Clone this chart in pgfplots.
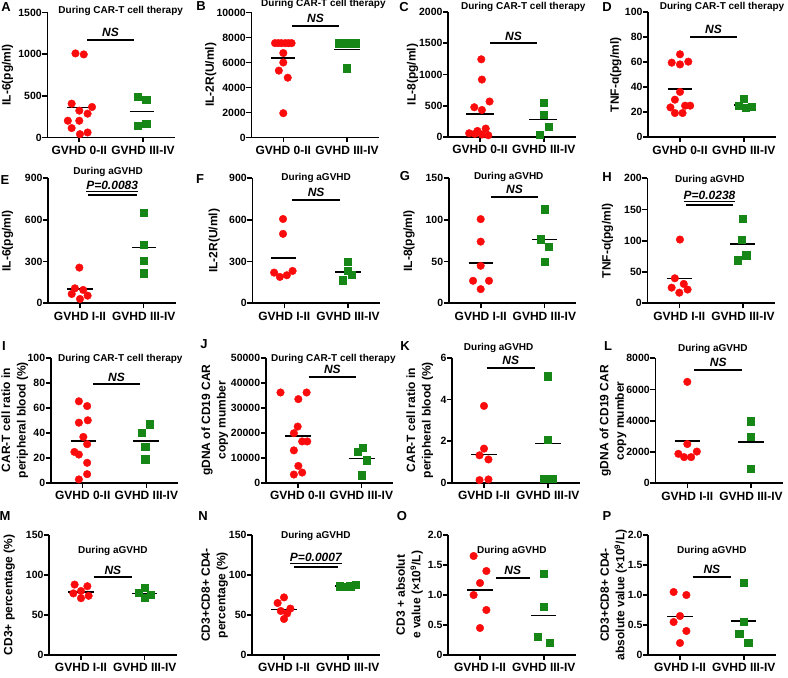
\documentclass[border=0pt]{standalone}
\usepackage{pgfplots}
\pgfplotsset{compat=1.18}
\usepackage{fontspec}
\setmainfont{Liberation Sans}
\definecolor{myred}{RGB}{250,12,12}
\definecolor{mygreen}{RGB}{22,135,22}
\pgfplotsset{panel/.style={
 scale only axis, width=127.4pt, height=125pt,
 xmin=-0.5, xmax=1.5, ymin=0,
 axis lines=left, axis line style={-, line width=1.6pt},
 xtick={0,1}, tick align=outside, major tick length=5pt,
 every tick/.style={black, line width=1.6pt},
 tick label style={font=\fontsize{10.5}{12}\selectfont\bfseries},
 yticklabel style={inner sep=0.5pt},
 xticklabel style={font=\fontsize{12}{13}\selectfont\bfseries},
 ylabel style={font=\fontsize{12}{15.5}\selectfont\bfseries, align=center, inner sep=0pt},
 clip=false, scaled y ticks=false,
 /pgf/number format/assume math mode=true,
 /pgf/number format/1000 sep={},
 anchor=south west,
},
ylab/.style={ylabel style={at={(axis description cs:-#1/127.4,0.5)}, anchor=south}}}
\newcommand{\reds}[1]{\addplot[only marks, mark=*, mark size=3.8pt, color=myred] coordinates {#1};}
\newcommand{\greens}[1]{\addplot[only marks, mark=square*, mark size=3.6pt, color=mygreen] coordinates {#1};}
\newcommand{\meanl}[3]{\addplot[black, line width=1.5pt] coordinates {(#1,#3) (#2,#3)};}
\newcommand{\sig}[5]{\addplot[black, line width=2pt] coordinates {(#1,#3) (#2,#3)};
 \node[anchor=south, inner sep=0pt, yshift=3pt, font=\fontsize{12}{13}\selectfont\bfseries\itshape] at (axis cs:#4,#3) {#5};}
\newcommand{\ttl}[3]{\node[font=\fontsize{10}{11}\selectfont\bfseries] at (axis cs:#1,#2) {#3};}
\newcommand{\lett}[3]{\node[font=\fontsize{13}{14}\selectfont\bfseries] at (#1pt,#2pt) {#3};}
\begin{document}
\begin{tikzpicture}
\useasboundingbox (0,0) rectangle (788pt,678pt);
% ---------------- Row 1
\begin{axis}[panel, ylab=34.2, at={(47.45pt,540.5pt)}, ymax=1500, ytick={0,500,1000,1500},
 xticklabels={GVHD 0-II,GVHD III-IV}, ylabel={IL-6(pg/ml)}]
\reds{(-0.06,1009) (0.07,997) (-0.12,406) (0.2,366) (0,322) (0.13,286) (-0.18,201) (0,201) (-0.12,113) (0.01,40) (0.13,60)}
\greens{(0.92,487) (1.05,454) (0.92,141) (1.05,161)}
\meanl{-0.2}{0.2}{362}
\meanl{0.79}{1.18}{314}
\sig{0.125}{0.86}{1170}{0.49}{NS}
\ttl{0.65}{1520}{During CAR-T cell therapy}
\end{axis}
\begin{axis}[panel, ylab=34.8, at={(251.45pt,540.5pt)}, ymax=10000, ytick={0,2000,4000,6000,8000,10000},
 xticklabels={GVHD 0-II,GVHD III-IV}, ylabel={IL-2R(U/ml)}]
\reds{(-0.13,7550) (-0.08,7550) (-0.03,7550) (0.03,7550) (0.08,7550) (0.13,7550) (0,6757) (0,6000) (-0.07,5350) (0.07,4784) (0,1946)}
\greens{(0.87,7550) (1,7550) (1.13,7550) (1,5540)}
\meanl{-0.19}{0.19}{6352}
\meanl{0.8}{1.2}{7027}
\sig{0.13}{0.88}{8920}{0.505}{NS}
\ttl{0.63}{10660}{During CAR-T cell therapy}
\end{axis}
\begin{axis}[panel, ylab=29.9, at={(448.15pt,541pt)}, ymax=2000, ytick={0,500,1000,1500,2000},
 xticklabels={GVHD 0-II,GVHD III-IV}, ylabel={IL-8(pg/ml)}]
\reds{(0.02,1243) (0.03,919) (0.15,568) (-0.09,476) (0.03,432) (0.09,135) (-0.04,97) (-0.17,60) (-0.08,50) (0.03,40) (0.13,28)}
\greens{(1,551) (1,351) (1.08,162) (0.94,38)}
\meanl{-0.22}{0.22}{368}
\meanl{0.77}{1.21}{281}
\sig{0.16}{0.89}{1497}{0.525}{NS}
\ttl{0.68}{2080}{During CAR-T cell therapy}
\end{axis}
\begin{axis}[panel, ylab=26.5, at={(648.15pt,540.7pt)}, ymax=100, ytick={0,20,40,60,80,100},
 xticklabels={GVHD 0-II,GVHD III-IV}, ylabel={TNF-ɑ(pg/ml)}]
\reds{(0,66.4) (-0.13,59.7) (0,58.3) (0.13,60.5) (0,36.3) (-0.08,30.1) (-0.15,23.9) (0.08,25.3) (0.16,25.3) (-0.08,19.4) (0.04,19.4)}
\greens{(1,30.6) (0.92,25) (1.03,23.8) (1.12,24.5)}
\meanl{-0.19}{0.19}{38.7}
\meanl{0.85}{1.18}{26}
\sig{0.16}{0.89}{80.6}{0.525}{NS}
\ttl{0.66}{104}{During CAR-T cell therapy}
\end{axis}
% ---------------- Row 2
\begin{axis}[panel, ylab=34.9, at={(48.15pt,374.7pt)}, ymax=900, ytick={0,300,600,900},
 xticklabels={GVHD I-II,GVHD III-IV}, ylabel={IL-6(pg/ml)}]
\reds{(-0.01,257) (-0.08,108) (0.05,96) (-0.13,67) (0,31) (0.12,55)}
\greens{(1,655) (1,420) (1,307) (1,216)}
\meanl{-0.2}{0.2}{103}
\meanl{0.82}{1.2}{401}
\sig{0.12}{0.89}{780}{0.505}{\underline{P=0.0083}}
\ttl{0.44}{948}{During aGVHD}
\end{axis}
\begin{axis}[panel, ylab=32.5, at={(252.45pt,374.7pt)}, ymax=900, ytick={0,300,600,900},
 xticklabels={GVHD I-II,GVHD III-IV}, ylabel={IL-2R(U/ml)}]
\reds{(-0.02,607) (-0.02,500) (-0.16,221) (-0.07,190) (0.04,202) (0.13,233)}
\greens{(1,302) (1,233) (1.06,207) (0.92,167)}
\meanl{-0.21}{0.18}{326}
\meanl{0.8}{1.2}{226}
\sig{0.12}{0.88}{745}{0.5}{NS}
\ttl{0.5}{900}{During aGVHD}
\end{axis}
\begin{axis}[panel, ylab=33.9, at={(448.85pt,374.7pt)}, ymax=150, ytick={0,50,100,150},
 xticklabels={GVHD I-II,GVHD III-IV}, ylabel={IL-8(pg/ml)}]
\reds{(0,101) (0,74) (0,45) (-0.12,27) (0.13,27) (0,17)}
\greens{(1,113) (0.94,77) (1.07,68) (1,50)}
\meanl{-0.19}{0.2}{48.4}
\meanl{0.81}{1.2}{76.6}
\sig{0.16}{0.9}{128}{0.53}{NS}
\ttl{0.44}{151.5}{During aGVHD}
\end{axis}
\begin{axis}[panel, ylab=34.1, at={(647.45pt,374.7pt)}, ymax=200, ytick={0,50,100,150,200},
 xticklabels={GVHD I-II,GVHD III-IV}, ylabel={TNF-ɑ(pg/ml)}]
\reds{(0.01,102) (-0.07,40) (-0.12,25) (0.07,31) (0.13,22) (0,17)}
\greens{(0.99,135) (0.98,102) (1.05,77) (0.92,69)}
\meanl{-0.2}{0.2}{39.7}
\meanl{0.79}{1.19}{95.2}
\sig{0.11}{0.84}{157}{0.475}{\underline{P=0.0238}}
\ttl{0.48}{196.8}{During aGVHD}
\end{axis}
% ---------------- Row 3
\begin{axis}[panel, ylab=22.5, at={(50.85pt,195.2pt)}, ymax=100, ytick={0,20,40,60,80,100},
 xticklabels={GVHD 0-II,GVHD III-IV}, ylabel={CAR-T cell ratio in\\peripheral blood (\%)}]
\reds{(-0.06,65.2) (0.07,61.4) (-0.06,48.1) (0.08,50) (0.01,36.7) (0.07,30.9) (-0.13,24.7) (-0.06,22.6) (0.07,16) (0.07,6.9) (-0.06,2.7)}
\greens{(1.05,46.8) (0.92,39.9) (0.98,28.7) (0.98,18.9)}
\meanl{-0.19}{0.21}{33.5}
\meanl{0.79}{1.19}{33.5}
\sig{0.16}{0.9}{78.7}{0.53}{NS}
\ttl{0.59}{99.2}{During CAR-T cell therapy}
\end{axis}
\begin{axis}[panel, ylab=37.5, at={(265.85pt,195.2pt)}, ymax=50000, ytick={0,10000,20000,30000,40000,50000},
 xticklabels={GVHD 0-II,GVHD III-IV}, ylabel={gDNA of CD19 CAR\\copy mumber}]
\reds{(-0.27,36120) (0.14,36120) (0.01,33470) (0,22490) (-0.06,19840) (0.07,16540) (0.15,16540) (-0.06,12970) (0.01,6750) (-0.06,3310) (0.07,4100)}
\greens{(0.94,12570) (1.02,13890) (1.08,9000) (1,3040)}
\meanl{-0.2}{0.21}{18650}
\meanl{0.8}{1.21}{9660}
\sig{0.17}{0.92}{42340}{0.545}{NS}
\ttl{0.56}{49350}{During CAR-T cell therapy}
\end{axis}
\begin{axis}[panel, ylab=18.8, at={(452.15pt,195.2pt)}, ymax=6, ytick={0,2,4,6},
 xticklabels={GVHD I-II,GVHD III-IV}, ylabel={CAR-T cell ratio in\\peripheral blood (\%)}]
\reds{(0,3.69) (0,1.64) (-0.07,1.32) (0.07,1.12) (-0.07,0.13) (0.07,0.16)}
\greens{(1,5.12) (1,2.07) (0.94,0.18) (1.07,0.21)}
\meanl{-0.2}{0.2}{1.36}
\meanl{0.8}{1.21}{1.88}
\sig{0.04}{0.8}{5.52}{0.42}{NS}
\ttl{0.23}{6.48}{During aGVHD}
\end{axis}
\begin{axis}[panel, ylab=28.8, at={(655.45pt,194.7pt)}, ymax=8000, ytick={0,2000,4000,6000,8000},
 xticklabels={GVHD I-II,GVHD III-IV}, ylabel={gDNA of CD19 CAR\\copy mumber}]
\reds{(0,6492) (0,2513) (-0.14,1885) (0.15,2031) (-0.05,1675) (0.06,1675)}
\greens{(1,3979) (1,2995) (1,942)}
\meanl{-0.2}{0.2}{2722}
\meanl{0.8}{1.2}{2659}
\sig{0.11}{0.86}{7266}{0.485}{NS}
\ttl{0.4}{8592}{During aGVHD}
\end{axis}
% ---------------- Row 4
\begin{axis}[panel, ylab=34, height=120pt, at={(49.15pt,23pt)}, ymax=150, ytick={0,50,100,150},
 xticklabels={GVHD I-II,GVHD III-IV}, ylabel={CD3+ percentage (\%)}]
\reds{(-0.1,88) (0.1,86) (0,80) (-0.12,77) (0.12,74) (0,71)}
\greens{(1,84) (0.9,78) (1.1,75) (1,72)}
\meanl{-0.2}{0.2}{79}
\meanl{0.8}{1.2}{77}
\sig{0.2}{0.8}{97}{0.5}{NS}
\ttl{0.5}{130}{During aGVHD}
\end{axis}
\begin{axis}[panel, ylab=24, height=120pt, at={(252.15pt,23pt)}, ymax=150, ytick={0,50,100,150},
 xticklabels={GVHD I-II,GVHD III-IV}, ylabel={CD3+CD8+ CD4-\\percentage (\%)}]
\reds{(0,72) (-0.1,65) (0.1,58) (-0.05,55) (0.05,52) (0,45)}
\greens{(0.88,86) (0.96,85) (1.04,86) (1.12,88)}
\meanl{-0.2}{0.2}{57}
\meanl{0.8}{1.2}{86}
\sig{0.15}{0.85}{110}{0.5}{\underline{P=0.0007}}
\ttl{0.5}{148.5}{During aGVHD}
\end{axis}
\begin{axis}[panel, ylab=25, height=120pt, at={(448.15pt,23pt)}, ymax=2, ytick={0,0.5,1,1.5,2}, yticklabels={0,0.5,1.0,1.5,2.0},
 xticklabels={GVHD I-II,GVHD III-IV}, ylabel={CD3 + absolut\\e value (×10\textsuperscript{9}/L)}]
\reds{(-0.1,1.65) (0.1,1.4) (0,1.2) (-0.1,1.0) (0.1,0.75) (0,0.45)}
\greens{(1,1.35) (1,0.8) (0.9,0.3) (1.1,0.2)}
\meanl{-0.2}{0.2}{1.08}
\meanl{0.8}{1.2}{0.66}
\sig{0.25}{0.78}{1.28}{0.515}{NS}
\ttl{0.5}{1.734}{During aGVHD}
\end{axis}
\begin{axis}[panel, ylab=21, height=120pt, at={(648.15pt,23pt)}, ymax=2, ytick={0,0.5,1,1.5,2}, yticklabels={0,0.5,1.0,1.5,2.0},
 xticklabels={GVHD I-II,GVHD III-IV}, ylabel={CD3+CD8+ CD4-\\absolute value (×10\textsuperscript{9}/L)}]
\reds{(-0.1,1.05) (0.1,1.0) (0,0.65) (-0.1,0.55) (0.1,0.4) (0,0.2)}
\greens{(1,1.2) (1,0.55) (0.93,0.35) (1.07,0.2)}
\meanl{-0.2}{0.2}{0.64}
\meanl{0.8}{1.2}{0.57}
\sig{0.2}{0.8}{1.3}{0.5}{NS}
\ttl{0.5}{1.734}{During aGVHD}
\end{axis}
% panel letters
\lett{6}{671}{A}\lett{201}{672}{B}\lett{404}{670.5}{C}\lett{607}{671}{D}
\lett{5}{498}{E}\lett{200}{499}{F}\lett{405}{502}{G}\lett{607}{501}{H}
\lett{4}{332}{I}\lett{204}{334}{J}\lett{405}{332}{K}\lett{608}{332}{L}
\lett{5}{162}{M}\lett{203}{162}{N}\lett{402}{162}{O}\lett{607}{162}{P}
\end{tikzpicture}
\end{document}
